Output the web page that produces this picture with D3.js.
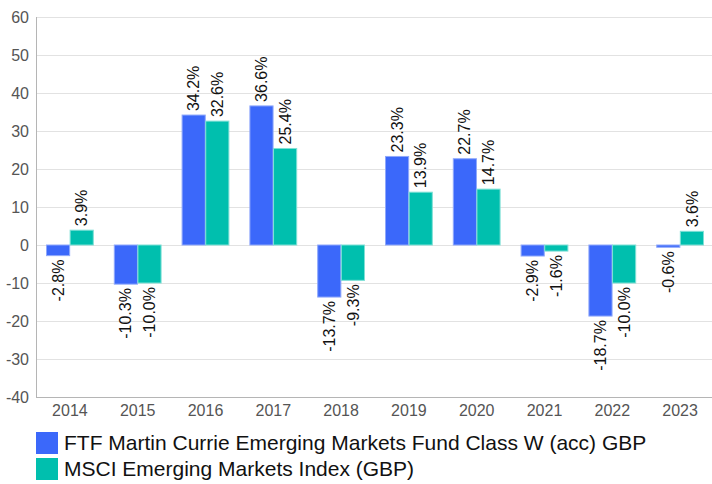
<!DOCTYPE html>
<html>
<head>
<meta charset="utf-8">
<script src="https://cdn.jsdelivr.net/npm/d3@7"></script>
<style>
  body { margin: 0; background: #fff; }
  svg { display: block; }
</style>
</head>
<body>
<script>
// data
var years = ["2014", "2015", "2016", "2017", "2018", "2019", "2020", "2021", "2022", "2023"];
var fund = [-2.8, -10.3, 34.2, 36.6, -13.7, 23.3, 22.7, -2.9, -18.7, -0.6];
var index = [3.9, -10.0, 32.6, 25.4, -9.3, 13.9, 14.7, -1.6, -10.0, 3.6];
var seriesNames = ["FTF Martin Currie Emerging Markets Fund Class W (acc) GBP", "MSCI Emerging Markets Index (GBP)"];
var yTicks = [60, 50, 40, 30, 20, 10, 0, -10, -20, -30, -40];

var w = 712, h = 484;
var colors = ["#3b68fa", "#00bfae"];
var strokes = ["#8fa8fb", "#7fe0d6"];

var svg = d3.select("body").append("svg")
  .attr("width", w)
  .attr("height", h)
  .attr("font-family", "'Liberation Sans', Arial, sans-serif");

var x = d3.scaleBand().domain(years).range([36, 714]).paddingInner(0.31).paddingOuter(0.155);
var x1 = d3.scaleBand().domain([0, 1]).range([0, x.bandwidth()]).paddingInner(0.02);
var y = d3.scaleLinear().domain([-40, 60]).range([397, 17]);

// gridlines
svg.append("g").selectAll("line")
  .data(yTicks)
  .enter().append("line")
  .attr("x1", 36).attr("x2", 712)
  .attr("y1", function(d) { return Math.round(y(d)) + 0.5; })
  .attr("y2", function(d) { return Math.round(y(d)) + 0.5; })
  .attr("stroke", "#e2e2e2");

// y labels
svg.append("g").selectAll("text")
  .data(yTicks)
  .enter().append("text")
  .attr("x", 29)
  .attr("y", function(d) { return y(d); })
  .attr("dy", "0.35em")
  .attr("text-anchor", "end")
  .attr("font-size", "16px")
  .attr("fill", "#555")
  .text(function(d) { return d; });

// axis lines
svg.append("line").attr("x1", 36.5).attr("x2", 36.5).attr("y1", 17).attr("y2", 397)
  .attr("stroke", "#b5b5b5");
svg.append("line").attr("x1", 36).attr("x2", 712).attr("y1", 397.5).attr("y2", 397.5)
  .attr("stroke", "#b5b5b5");

// x labels
svg.append("g").selectAll("text")
  .data(years)
  .enter().append("text")
  .attr("x", function(d) { return x(d) + x.bandwidth() / 2; })
  .attr("y", 416)
  .attr("text-anchor", "middle")
  .attr("font-size", "16px")
  .attr("fill", "#555")
  .text(function(d) { return d; });

var series = [fund, index];
series.forEach(function(vals, s) {
  var g = svg.append("g");
  g.selectAll("rect")
    .data(vals)
    .enter().append("rect")
    .attr("x", function(d, i) { return x(years[i]) + x1(s); })
    .attr("width", x1.bandwidth())
    .attr("y", function(d) { return y(Math.max(0, d)); })
    .attr("height", function(d) { return Math.abs(y(d) - y(0)); })
    .attr("fill", colors[s])
    .attr("stroke", strokes[s])
    .attr("stroke-width", 1);

  g.selectAll("text")
    .data(vals)
    .enter().append("text")
    .attr("transform", function(d, i) {
      var cx = x(years[i]) + x1(s) + x1.bandwidth() / 2;
      var cy = d >= 0 ? y(d) - 4 : y(d) + 4;
      return "translate(" + cx + "," + cy + ") rotate(-90)";
    })
    .attr("dy", "0.35em")
    .attr("text-anchor", function(d) { return d >= 0 ? "start" : "end"; })
    .attr("font-size", "16px")
    .attr("fill", "#111")
    .text(function(d) { return d.toFixed(1) + "%"; });
});

// legend
var legend = svg.append("g");
seriesNames.forEach(function(name, s) {
  legend.append("rect")
    .attr("x", 36).attr("y", 432 + s * 26)
    .attr("width", 22).attr("height", 22)
    .attr("fill", colors[s]);
  legend.append("text")
    .attr("x", 64).attr("y", 443 + s * 26)
    .attr("dy", "0.35em")
    .attr("font-size", "21px")
    .attr("fill", "#111")
    .text(name);
});
</script>
</body>
</html>
